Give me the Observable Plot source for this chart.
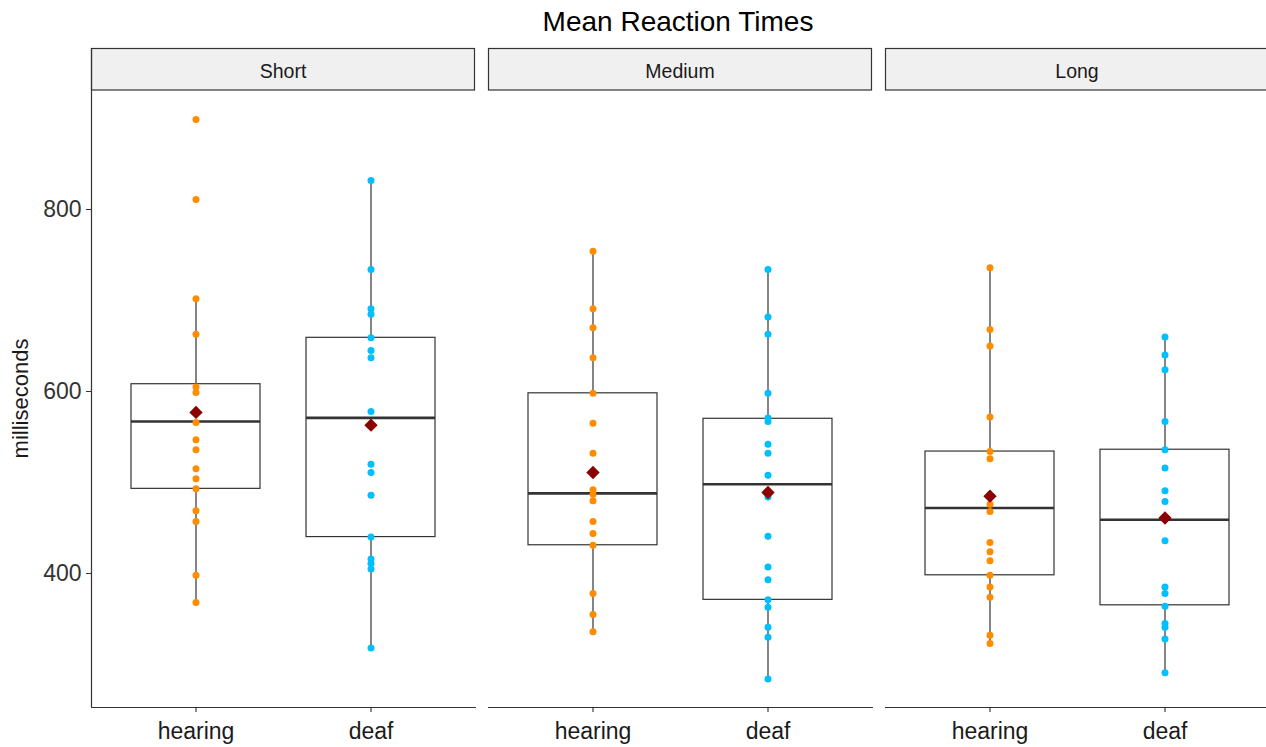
<!DOCTYPE html>
<html><head><meta charset="utf-8">
<script src="https://cdn.jsdelivr.net/npm/d3@7"></script>
<script src="https://cdn.jsdelivr.net/npm/@observablehq/plot@0.6"></script>
<style>
body{margin:0;background:#fff;font-family:"Liberation Sans",Arial,sans-serif;overflow:hidden;}
#title{height:44px;line-height:44px;text-align:center;font-size:28px;color:#000;padding-left:90px;}
</style></head><body>
<div id="title">Mean Reaction Times</div>
<div id="chart"></div>
<script>
const panels = ["Short", "Medium", "Long"];
const groups = ["hearing", "deaf"];
const yTicks = [400, 600, 800];

// individual participant means (ms)
const shortHearing  = [899, 811, 702, 663, 605, 599, 566, 547, 536, 515, 504, 493, 469, 457, 398, 368];
const shortDeaf     = [832, 734, 691, 685, 659, 645, 637, 578, 520, 511, 486, 440, 416, 411, 405, 318];
const mediumHearing = [754, 691, 670, 637, 598, 565, 532, 492, 487, 480, 457, 444, 431, 378, 355, 336];
const mediumDeaf    = [734, 682, 663, 598, 571, 567, 542, 532, 508, 484, 441, 407, 393, 371, 363, 341, 330, 284];
const longHearing   = [736, 668, 650, 572, 534, 526, 476, 468, 434, 424, 414, 398, 385, 374, 332, 323];
const longDeaf      = [660, 640, 624, 567, 536, 516, 491, 479, 436, 385, 378, 364, 345, 341, 328, 291];

// box statistics, order: Short-hearing, Short-deaf, Medium-hearing, Medium-deaf, Long-hearing, Long-deaf
const boxPanel  = ["Short", "Short", "Medium", "Medium", "Long", "Long"];
const boxGroup  = ["hearing", "deaf", "hearing", "deaf", "hearing", "deaf"];
const boxLow    = [368, 318, 336, 284, 323, 291];
const boxQ1     = [493, 440, 431, 371, 398, 365];
const boxMedian = [567, 571, 488, 498, 472, 459];
const boxQ3     = [608, 659, 598, 570, 534, 536];
const boxHigh   = [702, 832, 754, 734, 736, 660];
const groupMean = [577, 563, 511, 489, 485, 461];

const series = [
  ["Short", "hearing", shortHearing], ["Short", "deaf", shortDeaf],
  ["Medium", "hearing", mediumHearing], ["Medium", "deaf", mediumDeaf],
  ["Long", "hearing", longHearing], ["Long", "deaf", longDeaf]
];
const points = series.flatMap(([panel, group, vals]) => vals.map(value => ({panel, group, value})));
const boxes = boxPanel.map((panel, i) => ({
  panel, group: boxGroup[i], lo: boxLow[i], q1: boxQ1[i], med: boxMedian[i],
  q3: boxQ3[i], hi: boxHigh[i], mean: groupMean[i]
}));

const ink = "#333333";
const plot = Plot.plot({
  width: 1266, height: 703,
  marginTop: 46, marginBottom: 40, marginLeft: 90, marginRight: -3,
  style: {fontFamily: "'Liberation Sans', Arial, sans-serif", background: "white", overflow: "hidden"},
  fx: {domain: panels, paddingInner: 0.034, paddingOuter: 0, axis: null, label: null},
  x: {domain: groups, paddingInner: 0.261, paddingOuter: 0.2216, label: null},
  y: {domain: [252.7, 930.8], label: null},
  color: {domain: groups, range: ["#FF8C00", "#00BFFF"]},
  marks: [
    Plot.frame({anchor: "bottom", stroke: ink, strokeOpacity: 1}),
    Plot.axisX({tickSize: 5, tickPadding: 10, fontSize: 23, color: "#1a1a1a", label: null}),
    Plot.axisY({ticks: yTicks, tickSize: 5, tickPadding: 5, fontSize: 23, color: "#333",
      label: null}),
    Plot.ruleX(boxes, {fx: "panel", x: "group", y1: "q3", y2: "hi", stroke: ink, strokeWidth: 1.2}),
    Plot.ruleX(boxes, {fx: "panel", x: "group", y1: "lo", y2: "q1", stroke: ink, strokeWidth: 1.2}),
    Plot.barY(boxes, {fx: "panel", x: "group", y1: "q1", y2: "q3", fill: "none", stroke: ink, strokeWidth: 1.2}),
    Plot.tickY(boxes, {fx: "panel", x: "group", y: "med", stroke: ink, strokeWidth: 2.6}),
    Plot.dot(points, {fx: "panel", x: "group", y: "value", r: 3.5, fill: "group", stroke: null}),
    Plot.dot(boxes, {fx: "panel", x: "group", y: "mean", symbol: "diamond2", r: 6, fill: "#8B0000"})
  ]
});

// facet strips, y-axis title and left axis line, positioned with the plot's scales
const fx = plot.scale("fx");
const ys = plot.scale("y");
const svg = d3.select(plot);
const g = svg.append("g");
for (const p of panels) {
  const x0 = fx.apply(p);
  g.append("rect").attr("x", x0 + 0.5).attr("y", 4.5).attr("width", fx.bandwidth - 1).attr("height", 41.5)
    .attr("fill", "#f0f0f0").attr("stroke", ink).attr("stroke-width", 1.2);
  g.append("text").attr("x", x0 + fx.bandwidth / 2).attr("y", 27.5).attr("dy", "0.35em")
    .attr("text-anchor", "middle").attr("font-size", 19.5).attr("fill", "#1a1a1a").text(p);
}
const x0 = fx.apply("Short");
g.append("line").attr("x1", x0 + 0.5).attr("x2", x0 + 0.5)
  .attr("y1", 4).attr("y2", 663).attr("stroke", ink).attr("stroke-width", 1.2);
const yMid = (ys.range[0] + ys.range[1]) / 2;
g.append("text").attr("transform", `translate(20,${yMid}) rotate(-90)`).attr("dy", "0.35em")
  .attr("text-anchor", "middle").attr("font-size", 22).attr("fill", "#1a1a1a").text("milliseconds");

document.getElementById("chart").appendChild(plot);
</script></body></html>
